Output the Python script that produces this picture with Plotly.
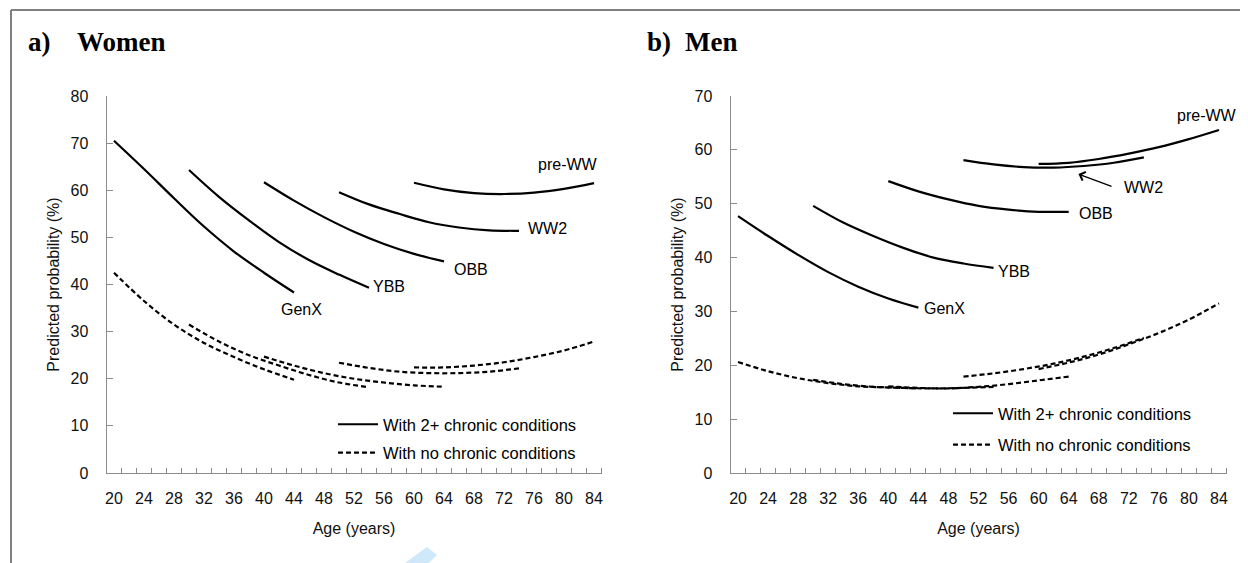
import plotly.graph_objects as go

# ---------------- data ----------------
ages_genx = [20, 24, 28, 32, 36, 40, 44]
ages_ybb = [30, 34, 38, 42, 46, 50, 54]
ages_obb = [40, 44, 48, 52, 56, 60, 64]
ages_ww2 = [50, 54, 58, 62, 66, 70, 74]
ages_preww = [60, 64, 68, 72, 76, 80, 84]
cohorts = ["GenX", "YBB", "OBB", "WW2", "pre-WW"]

# Women, with 2+ chronic conditions
w_genx_2 = [70.5, 64.5, 58.3, 52.3, 47.0, 42.5, 38.3]
w_ybb_2 = [64.3, 58.6, 53.6, 49.0, 45.2, 42.1, 39.3]
w_obb_2 = [61.7, 57.8, 54.3, 51.2, 48.6, 46.5, 44.9]
w_ww2_2 = [59.6, 57.0, 55.0, 53.2, 52.1, 51.5, 51.4]
w_preww_2 = [61.6, 60.2, 59.4, 59.2, 59.5, 60.3, 61.5]
# Women, with no chronic conditions
w_genx_0 = [42.5, 36.5, 31.5, 27.6, 24.6, 22.0, 19.8]
w_ybb_0 = [31.5, 27.9, 25.0, 22.8, 20.8, 19.2, 18.2]
w_obb_0 = [24.7, 22.8, 21.2, 20.0, 19.2, 18.6, 18.3]
w_ww2_0 = [23.4, 22.3, 21.5, 21.2, 21.2, 21.5, 22.2]
w_preww_0 = [22.4, 22.4, 22.8, 23.5, 24.6, 26.0, 27.9]

# Men, with 2+ chronic conditions
m_genx_2 = [47.7, 44.0, 40.5, 37.3, 34.6, 32.4, 30.7]
m_ybb_2 = [49.6, 46.5, 44.0, 41.8, 40.0, 38.9, 38.1]
m_obb_2 = [54.2, 52.3, 50.8, 49.6, 48.9, 48.5, 48.5]
m_ww2_2 = [58.1, 57.3, 56.8, 56.7, 57.0, 57.6, 58.6]
m_preww_2 = [57.4, 57.6, 58.3, 59.3, 60.5, 62.0, 63.7]
# Men, with no chronic conditions
m_genx_0 = [20.6, 18.9, 17.6, 16.7, 16.1, 15.9, 15.7]
m_ybb_0 = [17.3, 16.5, 16.0, 15.8, 15.7, 15.8, 16.0]
m_obb_0 = [16.1, 15.8, 15.7, 16.0, 16.5, 17.2, 17.9]
m_ww2_0 = [17.9, 18.5, 19.3, 20.3, 21.6, 23.2, 25.1]
m_preww_0 = [19.3, 20.5, 22.0, 23.9, 26.0, 28.5, 31.5]

# label anchor values (age, probability)
w_label_age = [45.0, 56.7, 67.6, 77.8, 80.5]
w_label_val = [34.6, 39.5, 43.1, 51.8, 65.4]
m_label_age = [47.5, 56.7, 67.7, 73.9, 82.4]
m_label_val = [30.6, 37.5, 48.1, 53.1, 66.3]
m_ww2_arrow_head = (65.3, 55.5)
m_ww2_arrow_tail = (69.9, 53.1)

x_ticks = list(range(20, 85, 4))
x_minor = list(range(19, 86, 2))
legend_names = ["With 2+ chronic conditions", "With no chronic conditions"]

# ---------------- figure ----------------
# the page body has an 8px margin, so the figure is drawn 8px smaller and offset
OFF = 8
W, H = 1248 - OFF, 563 - OFF
FONT = "Arial, 'Liberation Sans', sans-serif"
SERIF = "'Times New Roman', 'Liberation Serif', serif"
AXC = "#8c8c8c"


def px_x(p):
    return (p - OFF) / W


def px_y(p):
    return 1 - (p - OFF) / H


ages = [ages_genx, ages_ybb, ages_obb, ages_ww2, ages_preww]
women_2 = [w_genx_2, w_ybb_2, w_obb_2, w_ww2_2, w_preww_2]
women_0 = [w_genx_0, w_ybb_0, w_obb_0, w_ww2_0, w_preww_0]
men_2 = [m_genx_2, m_ybb_2, m_obb_2, m_ww2_2, m_preww_2]
men_0 = [m_genx_0, m_ybb_0, m_obb_0, m_ww2_0, m_preww_0]

fig = go.Figure()
SOLID = dict(color="black", width=2.2, shape="spline")
DASH = dict(color="black", width=2.2, shape="spline", dash="5px,3px")

for xa, ya, s2, s0 in [("x", "y", women_2, women_0), ("x2", "y2", men_2, men_0)]:
    for a, v in zip(ages, s0):
        fig.add_trace(go.Scatter(x=a, y=v, mode="lines", line=DASH, xaxis=xa, yaxis=ya,
                                 showlegend=False, hoverinfo="skip"))
    for a, v in zip(ages, s2):
        fig.add_trace(go.Scatter(x=a, y=v, mode="lines", line=SOLID, xaxis=xa, yaxis=ya,
                                 showlegend=False, hoverinfo="skip"))

# legend entries
for lg, xa, ya in [("legend", "x", "y"), ("legend2", "x2", "y2")]:
    for i, (name, ln) in enumerate(zip(legend_names, [SOLID, DASH])):
        l = dict(ln)
        l.pop("shape")
        fig.add_trace(go.Scatter(x=[None], y=[None], mode="lines", line=l, name=name,
                                 legend=lg, legendgroup=lg + str(i), xaxis=xa, yaxis=ya,
                                 showlegend=True))

annotations = []
for xr, yr, la, lv in [("x", "y", w_label_age, w_label_val), ("x2", "y2", m_label_age, m_label_val)]:
    for name, a, v in zip(cohorts, la, lv):
        annotations.append(dict(x=a, y=v, xref=xr, yref=yr, text=name, showarrow=False,
                                xanchor="center", yanchor="middle",
                                font=dict(family=FONT, size=16, color="black")))
annotations.append(dict(x=m_ww2_arrow_head[0], y=m_ww2_arrow_head[1], xref="x2", yref="y2",
                        ax=m_ww2_arrow_tail[0], ay=m_ww2_arrow_tail[1], axref="x2", ayref="y2",
                        text="", showarrow=True, arrowhead=4, arrowsize=1.3, arrowwidth=1.4,
                        arrowcolor="black"))
# panel titles
for txt, xp in [("a)", 26), ("Women", 75), ("b)", 645), ("Men", 683)]:
    annotations.append(dict(x=px_x(xp), y=px_y(42), xref="paper", yref="paper", text="<b>%s</b>" % txt,
                            showarrow=False, xanchor="left", yanchor="middle",
                            font=dict(family=SERIF, size=27, color="black")))

shapes = [
    dict(type="line", xref="paper", yref="paper", x0=px_x(11), x1=1, y0=px_y(10), y1=px_y(10),
         line=dict(color="#808080", width=2)),
    dict(type="line", xref="paper", yref="paper", x0=px_x(11), x1=px_x(11), y0=px_y(10), y1=0,
         line=dict(color="#808080", width=2)),
    dict(type="path", xref="paper", yref="paper",
         path="M %f,%f L %f,%f L %f,%f L %f,%f Z" % (px_x(405), px_y(563), px_x(427), px_y(547),
                                                     px_x(437), px_y(555), px_x(429), px_y(563)),
         fillcolor="#cfe9fb", line=dict(width=0)),
]


def xaxis(domain, anchor):
    return dict(domain=domain, range=[19, 85], anchor=anchor, tickvals=x_ticks, ticks="",
                showline=True, linecolor=AXC, linewidth=1, showgrid=False, zeroline=False,
                minor=dict(tickvals=x_minor, ticks="inside", ticklen=5, tickcolor=AXC, tickwidth=1,
                           showgrid=False),
                tickfont=dict(family=FONT, size=16, color="#111"), ticklabelstandoff=11,
                title=dict(text="Age (years)", standoff=16, font=dict(family=FONT, size=16, color="#111")))


def yaxis(domain, anchor, top):
    return dict(domain=domain, range=[0, top], anchor=anchor, tickvals=list(range(0, top + 1, 10)),
                ticks="inside", ticklen=6, tickcolor=AXC, showline=True, linecolor=AXC, linewidth=1,
                showgrid=False, zeroline=False, tickfont=dict(family=FONT, size=16, color="#111"),
                ticklabelstandoff=14,
                title=dict(text="Predicted probability (%)", standoff=6,
                           font=dict(family=FONT, size=16, color="#111")))


ydom = [px_y(473), px_y(96)]
leg = dict(xanchor="left", yanchor="top", bgcolor="rgba(0,0,0,0)", borderwidth=0,
           font=dict(family=FONT, size=16.5, color="black"), itemwidth=40,
           traceorder="grouped")
fig.update_layout(
    width=W, height=H, margin=dict(l=0, r=0, t=0, b=0, autoexpand=False),
    paper_bgcolor="white", plot_bgcolor="white",
    xaxis=xaxis([px_x(106.5), px_x(601.5)], "y"),
    yaxis=yaxis(ydom, "x", 80),
    xaxis2=xaxis([px_x(730.5), px_x(1226.5)], "y2"),
    yaxis2=yaxis(ydom, "x2", 70),
    legend=dict(leg, x=px_x(333), y=px_y(407), tracegroupgap=4),
    legend2=dict(leg, x=px_x(948), y=px_y(396), tracegroupgap=7),
    annotations=annotations, shapes=shapes,
    font=dict(family=FONT, size=16, color="black"),
)

fig.write_html("out.html")
